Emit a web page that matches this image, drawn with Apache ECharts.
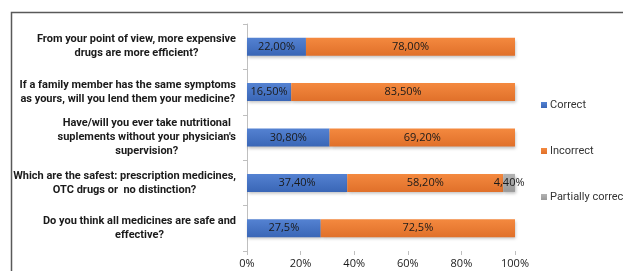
<!DOCTYPE html>
<html>
<head>
<meta charset="utf-8">
<script src="https://cdn.jsdelivr.net/npm/echarts@6/dist/echarts.min.js"></script>
<style>
  html, body { margin: 0; padding: 0; background: #fff; }
  #chart { width: 623px; height: 271px; }
</style>
</head>
<body>
<div id="chart"></div>
<script>
// questions, top to bottom
var questions = [
  'From your point of view, more expensive\ndrugs are more efficient?',
  'If a family member has the same symptoms\nas yours, will you lend them your medicine?',
  'Have/will you ever take nutritional\nsuplements without your physician\'s\nsupervision?',
  'Which are the safest: prescription medicines,\nOTC drugs or  no distinction?',
  'Do you think all medicines are safe and\neffective?'
]
var correct = [22.0, 16.5, 30.8, 37.4, 27.5]
var incorrect = [78.0, 83.5, 69.2, 58.2, 72.5]
var partial = [0, 0, 0, 4.4, 0]
// label text as printed on the bars
var correctLabels = ['22,00%', '16,50%', '30,80%', '37,40%', '27,5%']
var incorrectLabels = ['78,00%', '83,50%', '69,20%', '58,20%', '72,5%']
var partialLabels = ['', '', '', '4,40%', '']
var xTicks = [0, 20, 40, 60, 80, 100]

function grad(top, bottom) {
  return new echarts.graphic.LinearGradient(0, 0, 0, 1, [
    { offset: 0, color: top },
    { offset: 1, color: bottom }
  ])
}

function barSeries(name, values, labels, top, bottom) {
  return {
    name: name,
    type: 'bar',
    stack: 'all',
    barWidth: 18,
    itemStyle: {
      color: grad(top, bottom),
      shadowColor: 'rgba(0,0,0,0.25)',
      shadowBlur: 3,
      shadowOffsetX: 1,
      shadowOffsetY: 2
    },
    label: {
      show: true,
      position: 'inside',
      color: '#1a1a1a',
      fontFamily: 'Open Sans',
      fontSize: 11,
      formatter: function (p) { return labels[p.dataIndex] }
    },
    data: values
  }
}

var chart = echarts.init(document.getElementById('chart'), null, { renderer: 'canvas' })
chart.setOption({
  animation: false,
  color: ['#4472C4', '#ED7D31', '#A5A5A5'],
  graphic: [{
    type: 'rect',
    shape: { x: 11.5, y: 12.5, width: 700, height: 300 },
    style: { fill: 'none', stroke: '#595959', lineWidth: 1.5 },
    silent: true
  }],
  grid: { left: 247, right: 108, top: 24, bottom: 20 },
  legend: {
    orient: 'vertical',
    left: 541,
    top: 98,
    padding: 0,
    itemWidth: 6,
    itemHeight: 6,
    itemGap: 32,
    icon: 'rect',
    textStyle: { fontFamily: 'Roboto', fontSize: 11, color: '#333', lineHeight: 14, padding: [0, 0, 0, -2] },
    data: ['Correct', 'Incorrect', 'Partially correct']
  },
  xAxis: {
    type: 'value',
    min: 0,
    max: 100,
    interval: 20,
    axisLine: { show: false },
    axisTick: { show: true, length: 4, lineStyle: { color: '#bfbfbf' } },
    splitLine: { show: false },
    axisLabel: {
      fontFamily: 'Open Sans',
      fontSize: 11,
      color: '#1a1a1a',
      margin: 7,
      formatter: function (v) { return xTicks.indexOf(v) >= 0 ? v + '%' : '' }
    }
  },
  yAxis: {
    type: 'category',
    inverse: true,
    data: questions,
    axisLine: { show: true, lineStyle: { color: '#bfbfbf' } },
    axisTick: { show: true, length: 4, lineStyle: { color: '#bfbfbf' } },
    axisLabel: {
      margin: 11,
      fontFamily: 'Roboto',
      fontWeight: 'bold',
      fontSize: 11,
      lineHeight: 14,
      color: '#1a1a1a',
      formatter: function (v) {
        return v.split('\n').map(function (l) { return '{c|' + l + '}' }).join('\n')
      },
      rich: {
        c: { align: 'center', fontFamily: 'Roboto', fontWeight: 'bold', fontSize: 11, lineHeight: 14, color: '#1a1a1a' }
      }
    }
  },
  series: [
    barSeries('Correct', correct, correctLabels, '#5482D2', '#3A66B6'),
    barSeries('Incorrect', incorrect, incorrectLabels, '#F4893F', '#E0702A'),
    barSeries('Partially correct', partial, partialLabels, '#B3B3B3', '#999999')
  ]
})
</script>
</body>
</html>
